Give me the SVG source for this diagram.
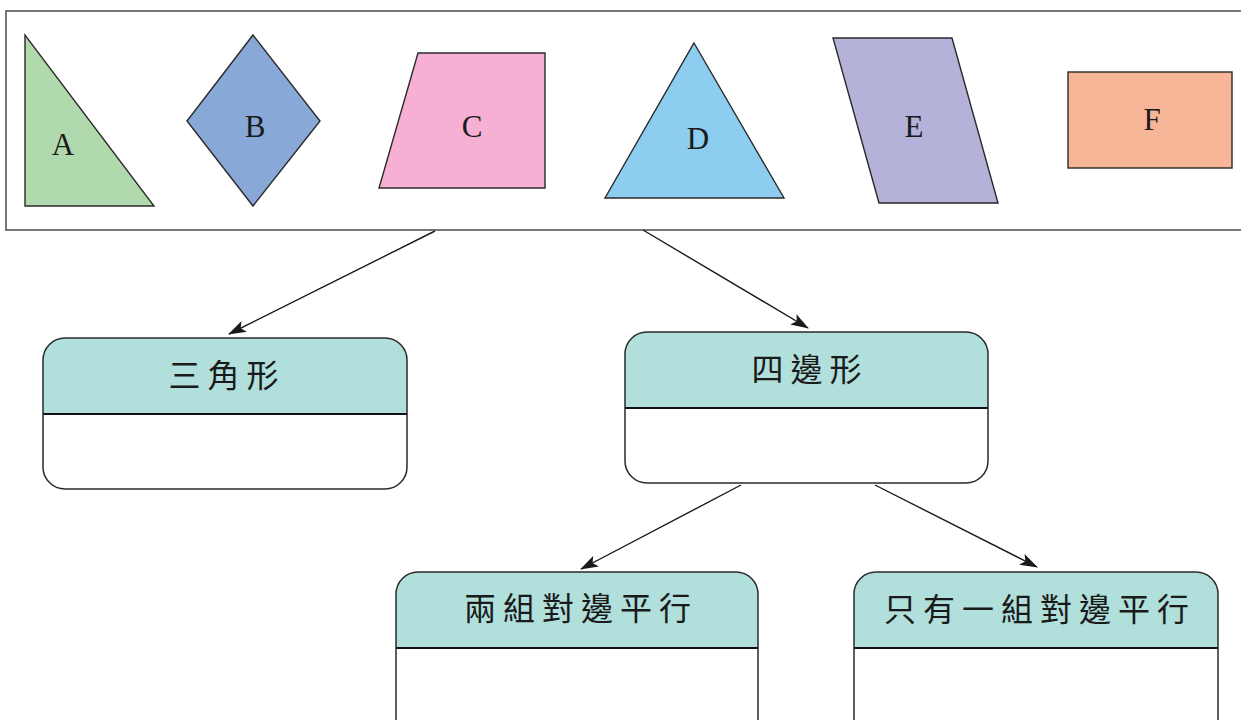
<svg xmlns="http://www.w3.org/2000/svg" width="1241" height="720" viewBox="0 0 1241 720">
  <style>
    .shape { stroke: #2a2a2a; stroke-width: 1.4; stroke-linejoin: miter; }
    .letter { font-family: "Liberation Serif", "Times New Roman", serif; font-size: 31px; fill: #1a1a1a; text-anchor: middle; }
    .hdr { fill: #b1dfdb; }
    .body { fill: #ffffff; }
    .outline { fill: none; stroke: #2a2a2a; stroke-width: 1.5; }
    .divider { stroke: #111; stroke-width: 2.2; }
    .label { font-family: "Noto Sans CJK TC", "Noto Sans CJK SC", sans-serif; font-size: 32px; font-weight: 400; fill: #1a1a1a; text-anchor: middle; letter-spacing: 7px; }
    .conn { stroke: #1a1a1a; stroke-width: 1.4; fill: none; marker-end: url(#arrow); }
  </style>
  <defs>
    <marker id="arrow" viewBox="0 0 18 12" refX="17" refY="6" markerWidth="18" markerHeight="12" markerUnits="userSpaceOnUse" orient="auto">
      <path d="M0,0 L18,6 L0,12 L4,6 Z" fill="#1a1a1a"/>
    </marker>
  </defs>
  <rect width="1241" height="720" fill="#ffffff"/>

  <g id="shapes-panel">
    <rect x="6" y="11" width="1245" height="219" fill="#ffffff" stroke="#555" stroke-width="1.6"/>
    <g id="shape-A">
      <polygon class="shape" points="25,35 25,206 154,206" fill="#b0d9ae"/>
      <text class="letter" x="63" y="155">A</text>
    </g>
    <g id="shape-B">
      <polygon class="shape" points="253,35 320,121 253,206 187,121" fill="#88a8d8"/>
      <text class="letter" x="255" y="137">B</text>
    </g>
    <g id="shape-C">
      <polygon class="shape" points="418,53 545,53 545,188 379,188" fill="#f5b0d4"/>
      <text class="letter" x="472" y="137">C</text>
    </g>
    <g id="shape-D">
      <polygon class="shape" points="694,43 784,198 605,198" fill="#8dcdf0"/>
      <text class="letter" x="698" y="149">D</text>
    </g>
    <g id="shape-E">
      <polygon class="shape" points="833,38 952,38 998,203 879,203" fill="#b5b2d9"/>
      <text class="letter" x="914" y="137">E</text>
    </g>
    <g id="shape-F">
      <rect class="shape" x="1068" y="72" width="164" height="96" fill="#f8b698"/>
      <text class="letter" x="1152" y="130">F</text>
    </g>
  </g>

  <g id="connectors">
    <line class="conn" x1="435" y1="231" x2="229" y2="334"/>
    <line class="conn" x1="643" y1="230" x2="808" y2="328"/>
    <line class="conn" x1="741" y1="485" x2="581" y2="569"/>
    <line class="conn" x1="875" y1="485" x2="1037" y2="567"/>
  </g>

  <g id="node-triangle">
    <rect class="body" x="43" y="338" width="364" height="151" rx="22"/>
    <path class="hdr" d="M43,414 V360 A22,22 0 0 1 65,338 H385 A22,22 0 0 1 407,360 V414 Z"/>
    <line class="divider" x1="43" y1="414" x2="407" y2="414"/>
    <rect class="outline" x="43" y="338" width="364" height="151" rx="22"/>
    <text class="label" x="227" y="387">三角形</text>
  </g>

  <g id="node-quadrilateral">
    <rect class="body" x="625" y="332" width="363" height="151" rx="22"/>
    <path class="hdr" d="M625,408 V354 A22,22 0 0 1 647,332 H966 A22,22 0 0 1 988,354 V408 Z"/>
    <line class="divider" x1="625" y1="408" x2="988" y2="408"/>
    <rect class="outline" x="625" y="332" width="363" height="151" rx="22"/>
    <text class="label" x="810" y="381">四邊形</text>
  </g>

  <g id="node-two-pairs">
    <rect class="body" x="396" y="572" width="362" height="170" rx="22"/>
    <path class="hdr" d="M396,648 V594 A22,22 0 0 1 418,572 H736 A22,22 0 0 1 758,594 V648 Z"/>
    <line class="divider" x1="396" y1="648" x2="758" y2="648"/>
    <rect class="outline" x="396" y="572" width="362" height="170" rx="22"/>
    <text class="label" x="581" y="620">兩組對邊平行</text>
  </g>

  <g id="node-one-pair">
    <rect class="body" x="854" y="572" width="364" height="170" rx="22"/>
    <path class="hdr" d="M854,648 V594 A22,22 0 0 1 876,572 H1196 A22,22 0 0 1 1218,594 V648 Z"/>
    <line class="divider" x1="854" y1="648" x2="1218" y2="648"/>
    <rect class="outline" x="854" y="572" width="364" height="170" rx="22"/>
    <text class="label" x="1040" y="621">只有一組對邊平行</text>
  </g>
</svg>
